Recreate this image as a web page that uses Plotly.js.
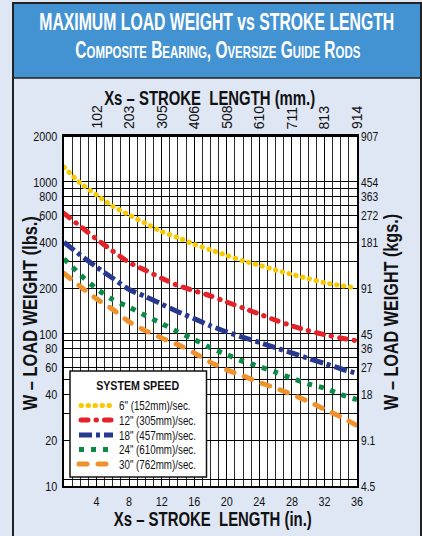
<!DOCTYPE html>
<html><head><meta charset="utf-8">
<script src="https://cdn.plot.ly/plotly-3.0.1.min.js"></script>
<style>
html,body{margin:0;padding:0;background:#dfe6f4;overflow:hidden;}
#chart{width:422px;height:536px;}
.scatterlayer .trace:nth-child(1) .js-line,
.scatterlayer .trace:nth-child(2) .js-line,
.scatterlayer .trace:nth-child(5) .js-line{stroke-linecap:round;}
</style></head><body><div id="chart"></div>
<script>
// ---- data ----
const strokeIn = [0,2,4,6,8,10,12,14,16,18,20,22,24,26,28,30,32,34,36];
const load6in  = [1250,980,820,690,605,533,470,430,388,357,328,302,283,263,246,231,217,208,200];
const load12in = [620,510,420,350,295,262,232,208,192,178,162,148,135,123,113,105,99,94,90];
const load18in = [400,330,275,232,196,176,157,140,126,113,103,95,88,81,75,69,64,59,55];
const load24in = [312,245,198,168,150,132,117,103,92,81,73,66,61,56,51,47,44,40,37];
const load30in = [250,205,170,145,120,105,94,85,75,65,58,53,48,44,40,36,32,28.5,25];
const seriesNames = ['6" (152mm)/sec.','12" (305mm)/sec.','18" (457mm)/sec.','24" (610mm)/sec.','30" (762mm)/sec.'];
const xTickIn = [4,8,12,16,20,24,28,32,36];
const xTickMm = ['102','203','305','406','508','610','711','813','914'];
const yTickLbs = [10,20,40,60,80,100,200,400,600,800,1000,2000];
const yTickKgs = ['4.5','9.1','18','27','36','45','91','181','272','363','454','907'];
const yMinorLbs = [11,30,50,70,90,300,500,700,900];

// ---- styles ----
const colors = ['#f8c800','#e42229','#27388f','#0a8a45','#f0922b'];
const dashes = ['0.5px,6.5px','7px,8px,0.5px,8px','13px,4px,4px,4px','5px,7px','8px,11px'];
const roundCap = [true,true,false,false,true];
const widths = [5,5,5,5,5];
const FN = "'Liberation Sans',Arial,sans-serif";

// geometry helpers (plot area in px: x 64..357, y 136..486)
const L=64, R=65, T=136, B=50, W=422, H=536;
const PW=W-L-R, PH=H-T-B;
const px=v=>(v-L)/PW, py=v=>(H-B-v)/PH;

const loads=[load6in,load12in,load18in,load24in,load30in];
const traces = loads.map((ys,i)=>({
  type:'scatter', mode:'lines', x:strokeIn, y:ys, name:seriesNames[i],
  line:{color:colors[i], width:widths[i], dash:dashes[i], shape:'spline', smoothing:0.6},
  showlegend:false, hoverinfo:'skip'
}));

function ann(text,x,y,o){return Object.assign({text:text,x:px(x),y:py(y),xref:'paper',yref:'paper',showarrow:false,xanchor:'center',yanchor:'middle',font:{family:FN,size:13,color:'#111'}},o||{});}

const sc=(c,rest)=>c+'<span style="font-size:17px">'+rest+'</span>';
const subtitle = sc('C','OMPOSITE')+' '+sc('B','EARING')+', '+sc('O','VERSIZE')+' '+sc('G','UIDE')+' '+sc('R','ODS');

const annotations=[], targets=[];
function addAnn(a,t){annotations.push(a);targets.push(t);}
addAnn(ann('MAXIMUM LOAD WEIGHT vs STROKE LENGTH',217,22,{font:{family:FN,size:23,color:'#fff',weight:700}}),355);
addAnn(ann(subtitle,217.5,50,{font:{family:FN,size:23,color:'#fff',weight:700}}),285);
addAnn(ann('Xs – STROKE\u00a0\u00a0LENGTH (mm.)',209.5,98,{font:{family:FN,size:20,color:'#111',weight:700}}),211);
addAnn(ann('Xs – STROKE\u00a0\u00a0LENGTH (in.)',212.5,519,{font:{family:FN,size:20,color:'#111',weight:700}}),198);
addAnn(ann('W – LOAD WEIGHT (lbs.)',29.5,313,{textangle:-90,font:{family:FN,size:20,color:'#111',weight:700}}),194);
addAnn(ann('W – LOAD WEIGHT (kgs.)',391,312,{textangle:-90,font:{family:FN,size:20,color:'#111',weight:700}}),196);
addAnn(ann('SYSTEM SPEED',137.3,385.5,{font:{family:FN,size:12.5,color:'#111',weight:700}}),83);
const legY=[405.5,420,435,449.5,464];
seriesNames.forEach((n,i)=>addAnn(ann(n,117,legY[i],{xanchor:'left',align:'left',font:{family:FN,size:13,color:'#111'}}),'leg'));
// top (mm) tick labels placed on the x axis scale
xTickIn.forEach((v,i)=>addAnn({text:xTickMm[i],x:v,xref:'x',y:py(131),yref:'paper',yanchor:'bottom',xanchor:'center',
  textangle:-90,showarrow:false,font:{family:FN,size:14,color:'#111'}},null));

// grid lines as shapes positioned through the axes' own scales
const shapes=[], crisp=[], capRound=[];
for(let v=1; v<36; v++){
  crisp.push(shapes.length);
  shapes.push({type:'line',xref:'x',yref:'paper',x0:v,x1:v,y0:0,y1:1,line:{color:v%4===0?'#000':'#2a2a2a',width:1},layer:'below'});
}
yTickLbs.concat(yMinorLbs).forEach(v=>{
  crisp.push(shapes.length);
  shapes.push({type:'line',xref:'paper',yref:'y',x0:0,x1:1,y0:v,y1:v,line:{color:'#000',width:1},layer:'below'});
});
shapes.push({type:'rect',xref:'paper',yref:'paper',x0:px(13),x1:px(421),y0:py(3),y1:py(78),fillcolor:'#4393d3',line:{color:'#222',width:1.5},layer:'below'});
shapes.push({type:'rect',xref:'paper',yref:'paper',x0:px(13),x1:px(421),y0:py(3),y1:py(560),fillcolor:'rgba(0,0,0,0)',line:{color:'#222',width:2},layer:'below'});
shapes.push({type:'rect',xref:'paper',yref:'paper',x0:px(70),x1:px(206.5),y0:py(371),y1:py(477),fillcolor:'#fff',line:{color:'#111',width:1.5},layer:'above'});
legY.forEach((y,i)=>{
  if(roundCap[i]) capRound.push(shapes.length);
  shapes.push({type:'line',xref:'paper',yref:'paper',x0:px(i<2?81:79),x1:px(i<2?111:113),y0:py(y),y1:py(y),line:{color:colors[i],width:widths[i],dash:dashes[i]},layer:'above'});
});

const axFont={family:FN,size:13.5,color:'#111'};
const layout={
  width:W,height:H,margin:{l:L,r:R,t:T,b:B},
  paper_bgcolor:'#dfe6f4',plot_bgcolor:'#fff',
  showlegend:false,
  xaxis:{range:[0,36],tickmode:'array',tickvals:xTickIn,ticks:'',tickfont:axFont,
    showgrid:false,zeroline:false,showline:true,mirror:true,linecolor:'#000',linewidth:2,ticklabelstandoff:2},
  yaxis:{type:'log',range:[1,Math.log10(2000)],tickmode:'array',tickvals:yTickLbs,ticks:'',tickfont:axFont,
    showgrid:false,zeroline:false,showline:true,mirror:true,linecolor:'#000',linewidth:2,ticklabelstandoff:2},
  yaxis2:{overlaying:'y',side:'right',type:'log',range:[1,Math.log10(2000)],tickmode:'array',tickvals:yTickLbs,ticktext:yTickKgs,
    ticks:'',tickfont:axFont,showgrid:false,zeroline:false,ticklabelstandoff:3},
  annotations:annotations,shapes:shapes
};
traces.push({type:'scatter',x:[],y:[],xaxis:'x',yaxis:'y2',showlegend:false,hoverinfo:'skip'});

function squeezeTo(el,target){
  el.setAttribute('textLength',target.toFixed(2));
  el.setAttribute('lengthAdjust','spacingAndGlyphs');
}
Plotly.newPlot('chart',traces,layout,{staticPlot:true,displayModeBar:false}).then(gd=>{
  gd.querySelectorAll('.shapelayer path').forEach(p=>{
    const i=+p.getAttribute('data-index');
    if(crisp.indexOf(i)>=0) p.style.shapeRendering='crispEdges';
    if(capRound.indexOf(i)>=0) p.style.strokeLinecap='round';
  });
  const annEls=gd.querySelectorAll('g.annotation');
  let legFactor=null;
  annEls.forEach(g=>{
    const i=+g.getAttribute('data-index');
    const t=g.querySelector('text.annotation-text');
    if(!t) return;
    let tg=targets[i];
    if(tg===null||tg===undefined) return;
    const w=t.getComputedTextLength();
    if(tg==='leg'){
      if(legFactor===null){
        const t2=annEls[8].querySelector('text.annotation-text');
        legFactor=77/t2.getComputedTextLength();
      }
      tg=w*legFactor;
    }
    squeezeTo(t,tg);
  });
  const fac={xtick:0.8,ytick:0.8,y2tick:0.76};
  Object.keys(fac).forEach(c=>{
    gd.querySelectorAll('g.'+c+' text').forEach(t=>{squeezeTo(t,t.getComputedTextLength()*fac[c]);});
  });
});
</script></body></html>
